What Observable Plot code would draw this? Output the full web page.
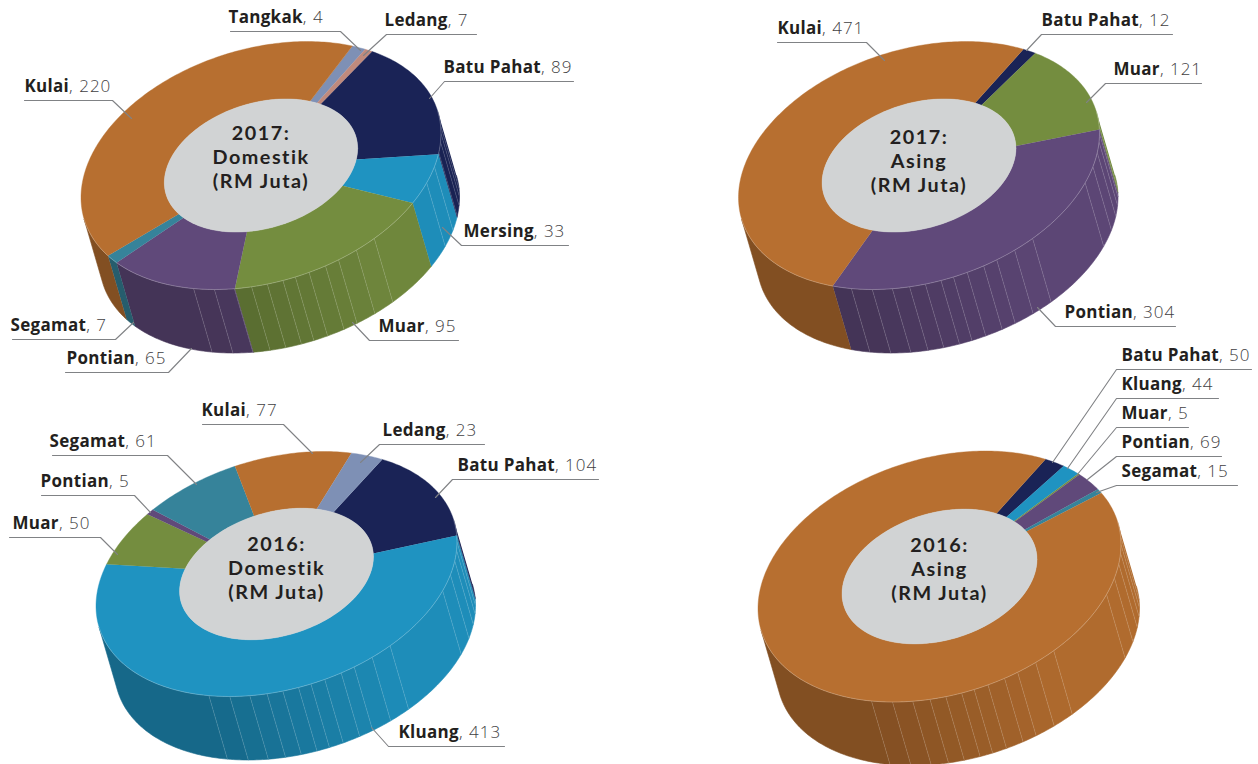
<!DOCTYPE html>
<html><head><meta charset="utf-8">
<style>html,body{margin:0;padding:0;background:#fff;overflow:hidden}svg{display:block}</style>
<script src="https://cdn.jsdelivr.net/npm/d3@7"></script>
<script src="https://cdn.jsdelivr.net/npm/@observablehq/plot@0.6"></script>
</head><body><div id="chart"></div>
<script>
// ---- data (clockwise from the first slice)
const names2017D = ["Ledang","Tangkak","Batu Pahat","Mersing","Muar","Pontian","Segamat","Kulai"];
const values2017D = [7,4,89,33,95,65,7,220];
const names2017A = ["Batu Pahat","Muar","Pontian","Kulai"];
const values2017A = [12,121,304,471];
const names2016D = ["Batu Pahat","Kluang","Muar","Pontian","Segamat","Kulai","Ledang"];
const values2016D = [104,413,50,5,61,77,23];
const names2016A = ["Batu Pahat","Kluang","Muar","Pontian","Segamat","Kulai"];
const values2016A = [50,44,5,69,15,2231]; // Kulai is unlabelled in the source: estimated from its sweep
const palette = {Kulai:"#b76f30",Tangkak:"#bf8a7d",Ledang:"#7e90b5","Batu Pahat":"#1a2356",Mersing:"#1f93c1",Kluang:"#1f93c1",Muar:"#748d3f",Pontian:"#60497a",Segamat:"#36839a"};

// ---- layout of each pie: projected circle (centre, half extents), start angle
const pies = [
  {id:"D17",title:["2017:","Domestik","(RM Juta)"],names:names2017D,values:values2017D,cx:260.5,cy:165,X:180,Y:124,start:-59.5,ty:[133,157,181]},
  {id:"A17",title:["2017:","Asing","(RM Juta)"],names:names2017A,values:values2017A,cx:918.5,cy:165,X:180.5,Y:124,start:-54.7,ty:[137,161,185]},
  {id:"D16",title:["2016:","Domestik","(RM Juta)"],names:names2016D,values:values2016D,cx:276,cy:573.5,X:180.5,Y:122.5,start:-54.2,ty:[544,568,592]},
  {id:"A16",title:["2016:","Asing","(RM Juta)"],names:names2016A,values:values2016A,cx:939,cy:576,X:181.5,Y:125.5,start:-54.3,ty:[545,569,593]}
];
const skew = -32, depth = [18.5,63.5], holeRatio = 0.537;
const wallTicks = [112,105,98.5,93,88,83,79,74.5,69,64.5,58,51,23,15.5,9,4,0,-4];
const silhouette = [-10.6,169.4];

// label layout: text start, underline x1-x2 and y, leader end
const labelLayout = [
 ["D17","Tangkak",228,230,340,31,360,50,"r"],["D17","Ledang",384,386,476,34,363,55,"l"],
 ["D17","Batu Pahat",443,444,573,81,429,98,"l"],["D17","Kulai",24,24,112,100,131,118,"r"],
 ["D17","Mersing",463,461,568,245,442,227,"l"],["D17","Muar",378,369,458,340,352,322,"l"],
 ["D17","Pontian",66,65,168,372,191,348,"r"],["D17","Segamat",10,12,115,339,133,322,"r"],
 ["A17","Kulai",777,777,866,42,884,60,"r"],["A17","Batu Pahat",1041,1041,1172,34,1026,50,"l"],
 ["A17","Muar",1113,1105,1201,83,1086,102,"l"],["A17","Pontian",1064,1055,1175,326,1037,307,"l"],
 ["D16","Kulai",201,202,283,424,312,453,"r"],["D16","Ledang",382,379,484,444,360,462,"l"],
 ["D16","Batu Pahat",457,452,598,479,435,497,"l"],["D16","Segamat",49,52,167,455,196,484,"r"],
 ["D16","Pontian",40,41,134,495,150,512,"r"],["D16","Muar",12,9,100,537,117,554,"r"],
 ["D16","Kluang",398,388,504,746,371,727,"l"],
 ["A16","Batu Pahat",1121,1116,1251,369,1052,462,"l"],["A16","Kluang",1121,1116,1218,398,1067,468,"l"],
 ["A16","Muar",1121,1116,1188,427,1076,475,"l"],["A16","Pontian",1121,1116,1221,456,1087,479,"l"],
 ["A16","Segamat",1121,1116,1237,485,1096,492,"l"]
];

// ---- geometry helpers
const rad = Math.PI/180;
function project(p,theta,r=1,wall=0){
  const c=Math.cos(theta*rad), s=Math.sin(theta*rad), h=Math.sqrt(p.Y*p.Y-skew*skew);
  return [p.cx+r*p.X*c+wall*depth[0], p.cy+r*(skew*c+h*s)+wall*depth[1]];
}
function sliceRows(p){
  const total=d3.sum(p.values); let acc=0;
  return p.names.map((n,i)=>{const a0=p.start+acc/total*360; acc+=p.values[i]; return {n,a0,a1:p.start+acc/total*360,color:palette[n]};});
}
function sliceAt(sl,theta){
  for(let k=-1;k<=1;k++){const t=theta+360*k; const s=sl.find(d=>t>=d.a0&&t<d.a1); if(s) return s;}
  return sl[sl.length-1];
}
function shade(theta){
  const t=Math.max(0,Math.min(1,(112-theta)/(112-51)));
  return 0.71+0.25*t;
}
function scaleColor(col,f){const c=d3.rgb(col);return d3.rgb(c.r*f,c.g*f,c.b*f).formatHex();}

// ---- build rows
const faces=[],walls=[],holes=[],ticks=[],rims=[],centre=[];
for(const p of pies){
  const sl=sliceRows(p);
  for(const s of sl){
    const id=p.id+s.n;
    const n=Math.max(2,Math.ceil((s.a1-s.a0)));
    d3.range(n+1).forEach(i=>{const [x,y]=project(p,s.a0+(s.a1-s.a0)*i/n);faces.push({id,x,y,c:s.color});});
    d3.range(n,-1,-1).forEach(i=>{const [x,y]=project(p,s.a0+(s.a1-s.a0)*i/n,holeRatio);faces.push({id,x,y,c:s.color});});
  }
  const bnds=[...new Set([...wallTicks,...silhouette,...sl.flatMap(s=>[s.a0,s.a1]).map(a=>((a+190.6)%360+360)%360-190.6)])]
    .filter(a=>a>=silhouette[0]&&a<=silhouette[1]).sort((a,b)=>a-b);
  d3.pairs(bnds).forEach(([a,b],j)=>{
    const mid=(a+b)/2,s=sliceAt(sl,mid),c=scaleColor(s.color,shade(mid)),id=p.id+"w"+j;
    const n=Math.max(1,Math.ceil(b-a));
    d3.range(n+1).forEach(i=>{const [x,y]=project(p,a+(b-a)*i/n);walls.push({id,x,y,c});});
    d3.range(n,-1,-1).forEach(i=>{const [x,y]=project(p,a+(b-a)*i/n,1,1);walls.push({id,x,y,c});});
  });
  wallTicks.forEach(t=>{const [x1,y1]=project(p,t),[x2,y2]=project(p,t,1,1);ticks.push({x1,y1,x2,y2});});
  d3.range(silhouette[0],silhouette[1]+1,2).forEach(t=>{const [x,y]=project(p,t);rims.push({id:p.id,x,y});});
  d3.range(0,361,3).forEach(t=>{const [x,y]=project(p,t,holeRatio);holes.push({id:p.id,x,y});});
  p.title.forEach((line,i)=>centre.push({x:p.cx,y:p.ty[i],line}));
}
const FONT="'Open Sans', Lato, sans-serif";
const LABEL_SIZE=17;
const probe=d3.select("body").append("svg").attr("width",10).attr("height",10);
const probeText=probe.append("text").attr("font-family",FONT).attr("font-weight",700).attr("font-size",LABEL_SIZE).style("letter-spacing","0.3px");
const measure=s=>{probeText.text(s);return probeText.node().getComputedTextLength();};
const allPies=Object.fromEntries(pies.map(p=>[p.id,p]));
const labels=labelLayout.map(([id,n,tx,x1,x2,y,ax,ay,side])=>{
  const p=allPies[id],v=p.values[p.names.indexOf(n)];
  return {n,v:", "+v,tx,vx:tx+measure(n),ty:y-9,x1,x2,y,ax,ay,ex:side==="l"?x1:x2};
});
probe.remove();
const leaders=labels.flatMap((l,i)=>[{i,x:l.x1===l.ex?l.x2:l.x1,y:l.y},{i,x:l.ex,y:l.y},{i,x:l.ax,y:l.ay}]);

const chart=Plot.plot({
  width:1258,height:764,margin:0,
  x:{domain:[0,1258],range:[0,1258],axis:null},
  y:{domain:[0,764],range:[0,764],axis:null},
  color:{type:"identity"},
  marks:[
    Plot.line(walls,{x:"x",y:"y",z:"id",fill:"c",stroke:"c",strokeWidth:0.6,curve:"linear"}),
    Plot.link(ticks,{x1:"x1",y1:"y1",x2:"x2",y2:"y2",stroke:"#fff",strokeOpacity:0.22,strokeWidth:0.6}),
    Plot.line(faces,{x:"x",y:"y",z:"id",fill:"c",stroke:"c",strokeWidth:0.4,curve:"linear"}),
    Plot.line(rims,{x:"x",y:"y",z:"id",stroke:"#fff",strokeOpacity:0.4,strokeWidth:0.6}),
    Plot.line(holes,{x:"x",y:"y",z:"id",fill:"#d1d3d4",stroke:"#d1d3d4",strokeWidth:0.4,curve:"linear"}),
    Plot.line(leaders,{x:"x",y:"y",z:"i",stroke:"#808285",strokeWidth:1.1,curve:"linear"}),
    Plot.text(centre,{x:"x",y:"y",text:"line",fontFamily:"Lato, sans-serif",fontWeight:700,fontSize:19.8,fill:"#231f20"}),
    Plot.text(labels,{x:"tx",y:"ty",text:"n",textAnchor:"start",lineAnchor:"bottom",fontFamily:FONT,fontWeight:700,fontSize:LABEL_SIZE,fill:"#231f20"}),
    Plot.text(labels,{x:"vx",y:"ty",text:"v",textAnchor:"start",lineAnchor:"bottom",fontFamily:FONT,fontWeight:300,fontSize:LABEL_SIZE,fill:"#414042"})
  ]
});
const titleLines=new Set(pies.flatMap(p=>p.title));
d3.select(chart).selectAll("text").style("letter-spacing",function(){
  const t=this.textContent;
  return titleLines.has(t)?"1.5px":t.startsWith(",")?"1px":"0.3px";
});
document.getElementById("chart").append(chart);
</script></body></html>
